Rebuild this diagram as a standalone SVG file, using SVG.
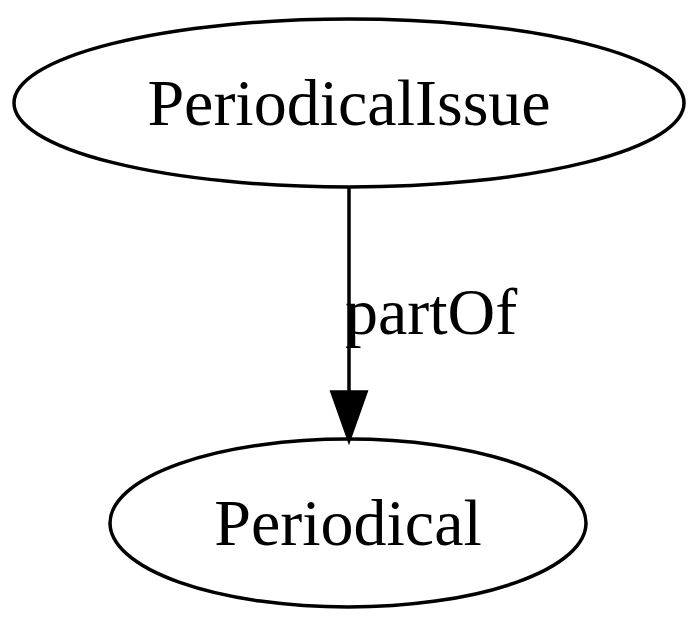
<svg xmlns="http://www.w3.org/2000/svg" width="700" height="629" viewBox="0 0 700 629">
<style>
.node ellipse{fill:none;stroke:#000;stroke-width:3.5}
text{font-family:"Liberation Serif","Times New Roman",serif;fill:#000}
.lbl{font-size:66px;text-anchor:middle}
.elbl{font-size:66px}
.edge line{stroke:#000;stroke-width:3.5}
.edge polygon{fill:#000;stroke:#000;stroke-width:3.5}
</style>
<rect width="700" height="629" fill="#fff"/>
<g id="connectors" class="edge">
<line x1="349" y1="188" x2="349" y2="392"/>
<polygon points="332,392 366,392 349,440"/>
<text class="elbl" x="345" y="334">partOf</text>
</g>
<g id="PeriodicalIssue" class="node">
<ellipse cx="349" cy="103" rx="335" ry="84"/>
<text class="lbl" x="349" y="125">PeriodicalIssue</text>
</g>
<g id="Periodical" class="node">
<ellipse cx="348" cy="523" rx="238" ry="84"/>
<text class="lbl" x="348" y="545">Periodical</text>
</g>
</svg>
